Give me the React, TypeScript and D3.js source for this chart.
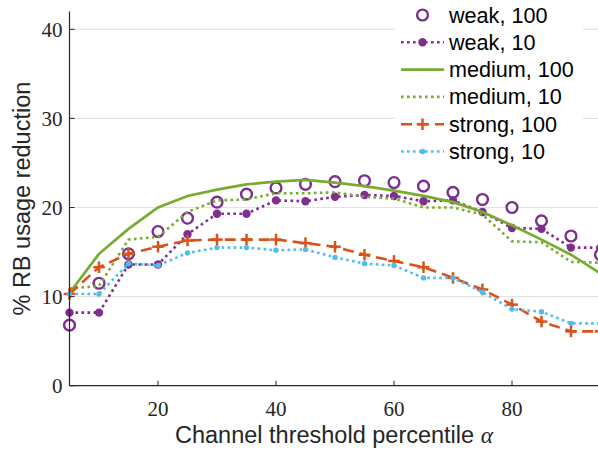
import React from 'react';
import * as d3 from 'd3';

const alphaValues = [5, 10, 15, 20, 25, 30, 35, 40, 45, 50, 55, 60, 65, 70, 75, 80, 85, 90, 95];

const weak100 = [6.8, 11.5, 14.8, 17.3, 18.8, 20.6, 21.5, 22.2, 22.6, 22.9, 23.0, 22.8, 22.4, 21.7, 20.9, 20.0, 18.5, 16.8, 14.7];
const weak10 = [8.2, 8.2, 13.6, 13.6, 17.0, 19.3, 19.3, 20.8, 20.7, 21.2, 21.4, 21.3, 20.7, 20.8, 19.5, 17.7, 17.6, 15.5, 15.5];
const medium100 = [10.4, 14.8, 17.6, 20.0, 21.3, 22.0, 22.6, 22.9, 23.1, 22.8, 22.4, 21.9, 21.3, 20.6, 19.5, 18.0, 16.4, 14.7, 12.6];
const medium10 = [10.9, 11.2, 16.4, 16.7, 19.5, 20.8, 20.9, 21.6, 21.6, 21.7, 21.2, 21.0, 20.0, 20.0, 19.2, 16.2, 16.1, 13.9, 13.8];
const strong100 = [10.3, 13.3, 14.8, 15.6, 16.3, 16.4, 16.4, 16.4, 16.0, 15.6, 14.7, 14.0, 13.3, 12.1, 10.8, 9.1, 7.2, 6.1, 6.1];
const strong10 = [10.3, 10.3, 13.7, 13.5, 14.9, 15.5, 15.5, 15.2, 15.3, 14.4, 13.7, 13.5, 12.1, 12.1, 10.5, 8.6, 8.3, 7.0, 7.0];

const yTicks = [0, 10, 20, 30, 40];
const xTicks = [20, 40, 60, 80];

const PURPLE = '#7E2F8E';
const GREEN = '#77AC30';
const ORANGE = '#D95319';
const BLUE = '#4DBEEE';
const AXIS = '#262626';

type Series = {
  name: string;
  values: number[];
  color: string;
  line: 'none' | 'solid' | 'dot' | 'dash';
  marker: 'circle' | 'dot' | 'plus' | 'small' | 'none';
};

const series: Series[] = [
  { name: 'weak, 100', values: weak100, color: PURPLE, line: 'none', marker: 'circle' },
  { name: 'weak, 10', values: weak10, color: PURPLE, line: 'dot', marker: 'dot' },
  { name: 'medium, 100', values: medium100, color: GREEN, line: 'solid', marker: 'none' },
  { name: 'medium, 10', values: medium10, color: GREEN, line: 'dot', marker: 'none' },
  { name: 'strong, 100', values: strong100, color: ORANGE, line: 'dash', marker: 'plus' },
  { name: 'strong, 10', values: strong10, color: BLUE, line: 'dot', marker: 'small' },
];

const dashFor = (l: Series['line']) => (l === 'dot' ? '2.6,3.4' : l === 'dash' ? '11,6' : undefined);

const Marker = ({ kind, x, y, color }: { kind: Series['marker']; x: number; y: number; color: string }) => {
  if (kind === 'circle') return <circle cx={x} cy={y} r={5.4} fill="white" stroke={color} strokeWidth={2.4} />;
  if (kind === 'dot') return <circle cx={x} cy={y} r={4.2} fill={color} />;
  if (kind === 'small') return <circle cx={x} cy={y} r={2.7} fill={color} />;
  if (kind === 'plus')
    return (
      <g stroke={color} strokeWidth={2.5}>
        <line x1={x - 5.8} x2={x + 5.8} y1={y} y2={y} />
        <line x1={x} x2={x} y1={y - 5.8} y2={y + 5.8} />
      </g>
    );
  return null;
};

export default function App() {
  const width = 598;
  const height = 451;
  const x = d3.scaleLinear().domain([5, 95]).range([69.5, 600.5]);
  const y = d3.scaleLinear().domain([0, 42]).range([385.7, 11.5]);

  const line = d3
    .line<number>()
    .x((_, i) => x(alphaValues[i]))
    .y(d => y(d));

  const legendX = 401;
  const legendY0 = 15;
  const legendStep = 27.3;

  return (
    <svg width={width} height={height} style={{ position: 'absolute', left: 0, top: 0, background: 'white' }}>
      {/* grid */}
      {yTicks.filter(t => t > 0).map(t => (
        <line key={t} x1={x(5)} x2={width} y1={y(t)} y2={y(t)} stroke="#e3e3e3" strokeWidth={1.2} />
      ))}

      {/* series */}
      {series.map(s => (
        <g key={s.name}>
          {s.line !== 'none' && (
            <path
              d={line(s.values) || ''}
              fill="none"
              stroke={s.color}
              strokeWidth={s.line === 'solid' ? 2.7 : 2.6}
              strokeDasharray={dashFor(s.line)}
            />
          )}
          {s.values.map((v, i) => (
            <Marker key={i} kind={s.marker} x={x(alphaValues[i])} y={y(v)} color={s.color} />
          ))}
        </g>
      ))}

      {/* axes */}
      <line x1={x(5)} x2={x(5)} y1={y(42)} y2={y(0)} stroke={AXIS} strokeWidth={1.2} />
      <line x1={x(5)} x2={width} y1={y(0)} y2={y(0)} stroke={AXIS} strokeWidth={1.2} />
      {yTicks.map(t => (
        <g key={t}>
          <line x1={x(5)} x2={x(5) + 5} y1={y(t)} y2={y(t)} stroke={AXIS} strokeWidth={1} />
          <text
            x={x(5) - 7}
            y={y(t)}
            dy="0.35em"
            textAnchor="end"
            fontFamily="'Liberation Serif', serif"
            fontSize={21}
            fill={AXIS}
          >
            {t}
          </text>
        </g>
      ))}
      {xTicks.map(t => (
        <g key={t}>
          <line x1={x(t)} x2={x(t)} y1={y(0)} y2={y(0) - 5} stroke={AXIS} strokeWidth={1} />
          <text
            x={x(t)}
            y={y(0) + 30}
            textAnchor="middle"
            fontFamily="'Liberation Serif', serif"
            fontSize={21}
            fill={AXIS}
          >
            {t}
          </text>
        </g>
      ))}

      <text
        x={334}
        y={443}
        textAnchor="middle"
        fontFamily="'Liberation Sans', Arial, sans-serif"
        fontSize={23.5}
        fill={AXIS}
      >
        Channel threshold percentile{' '}
        <tspan fontFamily="'Liberation Serif', serif" fontStyle="italic">
          α
        </tspan>
      </text>
      <text
        transform={`translate(30,${(y(0) + y(42)) / 2}) rotate(-90)`}
        textAnchor="middle"
        fontFamily="'Liberation Sans', Arial, sans-serif"
        fontSize={23.5}
        fill={AXIS}
      >
        % RB usage reduction
      </text>

      {/* legend */}
      <rect x={395} y={0} width={188} height={166} fill="white" />
      {series.map((s, i) => {
        const ly = legendY0 + i * legendStep;
        return (
          <g key={s.name}>
            {s.line !== 'none' && (
              <line
                x1={legendX}
                x2={legendX + 43}
                y1={ly}
                y2={ly}
                stroke={s.color}
                strokeWidth={s.line === 'solid' ? 2.7 : 2.6}
                strokeDasharray={dashFor(s.line)}
              />
            )}
            <Marker kind={s.marker} x={legendX + 21.5} y={ly} color={s.color} />
            <text
              x={449}
              y={ly}
              dy="0.35em"
              fontFamily="'Liberation Sans', Arial, sans-serif"
              fontSize={21.6}
              fill="#000"
            >
              {s.name}
            </text>
          </g>
        );
      })}
    </svg>
  );
}
